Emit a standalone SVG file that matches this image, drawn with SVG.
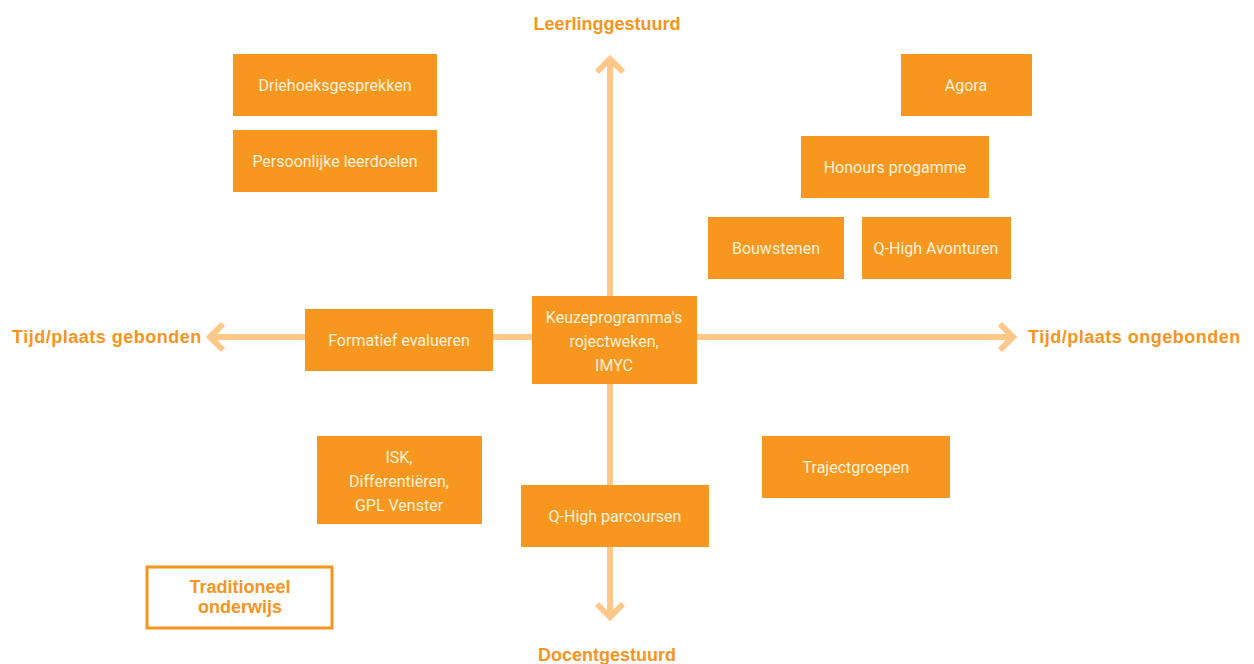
<svg xmlns="http://www.w3.org/2000/svg" width="1254" height="664" viewBox="0 0 1254 664">
<style>
.box{fill:#F7971F}
.bt{fill:#FFF1DA;font-family:"Liberation Sans Narrow","Roboto",sans-serif;font-size:16px;text-anchor:middle}
.ax{fill:none;stroke:#FFC889;stroke-width:6}
.lbl{fill:#F7941D;font-family:"Liberation Sans","Roboto",sans-serif;font-weight:bold;font-size:18px}
.side{letter-spacing:0.5px}
</style>
<rect width="1254" height="664" fill="#fff"/>
<g id="connectors">
<line class="ax" x1="610" y1="60" x2="610" y2="616"/>
<polyline class="ax" points="597,72 610,59 623,72"/>
<polyline class="ax" points="597,604 610,617 623,604"/>
<line class="ax" x1="211" y1="337" x2="1012" y2="337"/>
<polyline class="ax" points="223,324 210,337 223,350"/>
<polyline class="ax" points="1000,324 1013,337 1000,350"/>
</g>
<g id="label-top"><text class="lbl" x="607" y="30" text-anchor="middle">Leerlinggestuurd</text></g>
<g id="label-bottom"><text class="lbl" x="607" y="661" text-anchor="middle">Docentgestuurd</text></g>
<g id="label-left"><text class="lbl side" x="12" y="343">Tijd/plaats gebonden</text></g>
<g id="label-right"><text class="lbl side" x="1028" y="343">Tijd/plaats ongebonden</text></g>
<g id="driehoeksgesprekken"><rect class="box" x="233" y="54" width="204" height="62"/><text class="bt" x="335" y="91">Driehoeksgesprekken</text></g>
<g id="persoonlijke-leerdoelen"><rect class="box" x="233" y="130" width="204" height="62"/><text class="bt" x="335" y="167">Persoonlijke leerdoelen</text></g>
<g id="agora"><rect class="box" x="901" y="54" width="131" height="62"/><text class="bt" x="966" y="91">Agora</text></g>
<g id="honours"><rect class="box" x="801" y="136" width="188" height="62"/><text class="bt" x="895" y="173">Honours progamme</text></g>
<g id="bouwstenen"><rect class="box" x="708" y="217" width="136" height="62"/><text class="bt" x="776" y="254">Bouwstenen</text></g>
<g id="qhigh-avonturen"><rect class="box" x="862" y="217" width="149" height="62"/><text class="bt" x="936" y="254">Q-High Avonturen</text></g>
<g id="formatief"><rect class="box" x="305" y="309" width="188" height="62"/><text class="bt" x="399" y="346">Formatief evalueren</text></g>
<g id="keuze"><rect class="box" x="532" y="296" width="165" height="88"/><text class="bt" x="614" y="323">Keuzeprogramma's</text><text class="bt" x="614" y="347">rojectweken,</text><text class="bt" x="614" y="371">IMYC</text></g>
<g id="isk"><rect class="box" x="317" y="436" width="165" height="88"/><text class="bt" x="399" y="463">ISK,</text><text class="bt" x="399" y="487">Differentiëren,</text><text class="bt" x="399" y="511">GPL Venster</text></g>
<g id="trajectgroepen"><rect class="box" x="762" y="436" width="188" height="62"/><text class="bt" x="856" y="473">Trajectgroepen</text></g>
<g id="qhigh-parcoursen"><rect class="box" x="521" y="485" width="188" height="62"/><text class="bt" x="615" y="522">Q-High parcoursen</text></g>
<g id="traditioneel"><rect x="147" y="567" width="185" height="61" fill="#fff" stroke="#F7941D" stroke-width="3"/><text class="lbl" x="240" y="593" text-anchor="middle">Traditioneel</text><text class="lbl" x="240" y="613" text-anchor="middle">onderwijs</text></g>
</svg>
